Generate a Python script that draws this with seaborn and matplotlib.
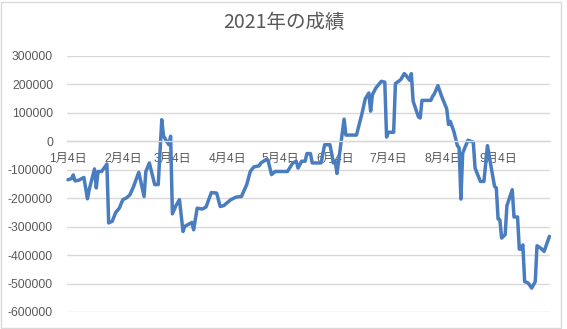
import matplotlib
matplotlib.use("Agg")
import matplotlib.pyplot as plt
import matplotlib.dates as mdates
from matplotlib.ticker import FixedLocator, FixedFormatter, FuncFormatter
from matplotlib.patches import Rectangle
import seaborn as sns
import pandas as pd

title = "2021年の成績"

dates = [
    "2021-01-04", "2021-01-06", "2021-01-07", "2021-01-08", "2021-01-10", "2021-01-13",
    "2021-01-15", "2021-01-16", "2021-01-19", "2021-01-20", "2021-01-21", "2021-01-23",
    "2021-01-26", "2021-01-27", "2021-01-29", "2021-01-31", "2021-02-02", "2021-02-04",
    "2021-02-06", "2021-02-08", "2021-02-10", "2021-02-13", "2021-02-16", "2021-02-17",
    "2021-02-19", "2021-02-22", "2021-02-24", "2021-02-26", "2021-02-27", "2021-03-02",
    "2021-03-03", "2021-03-04", "2021-03-06", "2021-03-08", "2021-03-10", "2021-03-11",
    "2021-03-15", "2021-03-16", "2021-03-18", "2021-03-21", "2021-03-23", "2021-03-26",
    "2021-03-29", "2021-03-31", "2021-04-02", "2021-04-06", "2021-04-09", "2021-04-12",
    "2021-04-15", "2021-04-17", "2021-04-19", "2021-04-22", "2021-04-23", "2021-04-26",
    "2021-04-27", "2021-04-29", "2021-05-01", "2021-05-08", "2021-05-11", "2021-05-13",
    "2021-05-14", "2021-05-16", "2021-05-18", "2021-05-19", "2021-05-21", "2021-05-22",
    "2021-05-27", "2021-05-29", "2021-06-01", "2021-06-03", "2021-06-04", "2021-06-05",
    "2021-06-09", "2021-06-10", "2021-06-16", "2021-06-19", "2021-06-21", "2021-06-23",
    "2021-06-24", "2021-06-25", "2021-06-27", "2021-06-30", "2021-07-02", "2021-07-03",
    "2021-07-04", "2021-07-07", "2021-07-08", "2021-07-11", "2021-07-13", "2021-07-14",
    "2021-07-16", "2021-07-17", "2021-07-18", "2021-07-21", "2021-07-22", "2021-07-23",
    "2021-07-28", "2021-07-29", "2021-07-30", "2021-08-01", "2021-08-03", "2021-08-06",
    "2021-08-07", "2021-08-08", "2021-08-10", "2021-08-12", "2021-08-13", "2021-08-14",
    "2021-08-15", "2021-08-18", "2021-08-21", "2021-08-22", "2021-08-25", "2021-08-27",
    "2021-08-29", "2021-08-31", "2021-09-02", "2021-09-03", "2021-09-04", "2021-09-05",
    "2021-09-06", "2021-09-08", "2021-09-09", "2021-09-12", "2021-09-13", "2021-09-15",
    "2021-09-16", "2021-09-17", "2021-09-18", "2021-09-19", "2021-09-21", "2021-09-23",
    "2021-09-25", "2021-09-26", "2021-09-28", "2021-09-30", "2021-10-03",
]

values = [
    -135000, -131000, -118000, -139000, -137000, -127000,
    -202000, -170000, -97000, -164000, -106000, -106000,
    -80000, -287000, -281000, -250000, -235000, -205000,
    -199000, -188000, -160000, -109000, -194000, -106000,
    -76000, -152000, -152000, 76000, 18000, -12000,
    18000, -255000, -226000, -205000, -317000, -299000,
    -285000, -311000, -235000, -238000, -231000, -180000,
    -182000, -229000, -226000, -205000, -196000, -194000,
    -152000, -106000, -90000, -86000, -76000, -64000,
    -66000, -117000, -106000, -106000, -76000, -70000,
    -94000, -70000, -70000, -43000, -43000, -76000,
    -76000, -12000, -12000, -76000, -70000, -113000,
    78000, 22000, 22000, 95000, 150000, 170000,
    106000, 164000, 188000, 211000, 208000, 15000,
    32000, 32000, 203000, 217000, 238000, 232000,
    215000, 238000, 141000, 86000, 82000, 144000,
    144000, 158000, 167000, 196000, 160000, 114000,
    59000, 70000, 35000, -15000, -23000, -203000,
    -41000, 4000, -3000, -94000, -141000, -141000,
    -15000, -88000, -158000, -164000, -273000, -276000,
    -340000, -328000, -226000, -170000, -266000, -266000,
    -379000, -379000, -364000, -493000, -498000, -516000,
    -493000, -367000, -375000, -387000, -334000,
]

x_tick_dates = ["2021-01-04", "2021-02-04", "2021-03-04", "2021-04-04", "2021-05-04",
                "2021-06-04", "2021-07-04", "2021-08-04", "2021-09-04"]
x_tick_labels = ["1月4日", "2月4日", "3月4日", "4月4日", "5月4日",
                 "6月4日", "7月4日", "8月4日", "9月4日"]
y_ticks = [-600000, -500000, -400000, -300000, -200000, -100000, 0, 100000, 200000, 300000]

df = pd.DataFrame({"date": pd.to_datetime(dates), "value": values})

sns.set_style("white")
plt.rcParams["font.family"] = ["Liberation Sans", "Noto Sans CJK JP", "DejaVu Sans"]
plt.rcParams["axes.unicode_minus"] = False

W, H = 567, 329
fig = plt.figure(figsize=(W / 100, H / 100), dpi=100)
ax = fig.add_axes([67 / W, 1 - 312 / H, (550 - 67) / W, (312 - 56) / H])

sns.lineplot(data=df, x="date", y="value", ax=ax, color="#4A7DBF", linewidth=2.5,
             solid_joinstyle="round", solid_capstyle="round", clip_on=False)

ax.set_ylim(y_ticks[0], y_ticks[-1])
ax.set_xlim(pd.Timestamp("2021-01-03 11:00"), pd.Timestamp("2021-10-03 08:00"))
ax.yaxis.set_major_locator(FixedLocator(y_ticks))
ax.yaxis.set_major_formatter(FuncFormatter(lambda v, p: f"{int(round(v))}"))
ax.xaxis.set_major_locator(FixedLocator(mdates.date2num(pd.to_datetime(x_tick_dates))))
ax.xaxis.set_major_formatter(FixedFormatter(x_tick_labels))

ax.grid(axis="y", color="#D9D9D9", linewidth=1)
ax.grid(axis="x", visible=False)
ax.set_axisbelow(True)
for s in ["left", "right", "top"]:
    ax.spines[s].set_visible(False)
ax.spines["bottom"].set_position(("data", 0))
ax.spines["bottom"].set_color("#D9D9D9")
ax.spines["bottom"].set_linewidth(1)
ax.tick_params(axis="both", length=0, labelsize=8.7, labelcolor="#595959")
ax.tick_params(axis="y", pad=10)
ax.tick_params(axis="x", pad=8)
ax.set_xlabel("")
ax.set_ylabel("")

fig.text(0.5, 1 - 22 / H, title, ha="center", va="center", fontsize=14, color="#595959",
         family=["Noto Sans CJK JP", "DejaVu Sans"])

fig.patches.append(Rectangle((1 / W, 1 / H), (W - 7) / W, (H - 3) / H, transform=fig.transFigure,
                             fill=False, edgecolor="#D9D9D9", linewidth=1))

fig.savefig("out.png", dpi=100, facecolor="white")
